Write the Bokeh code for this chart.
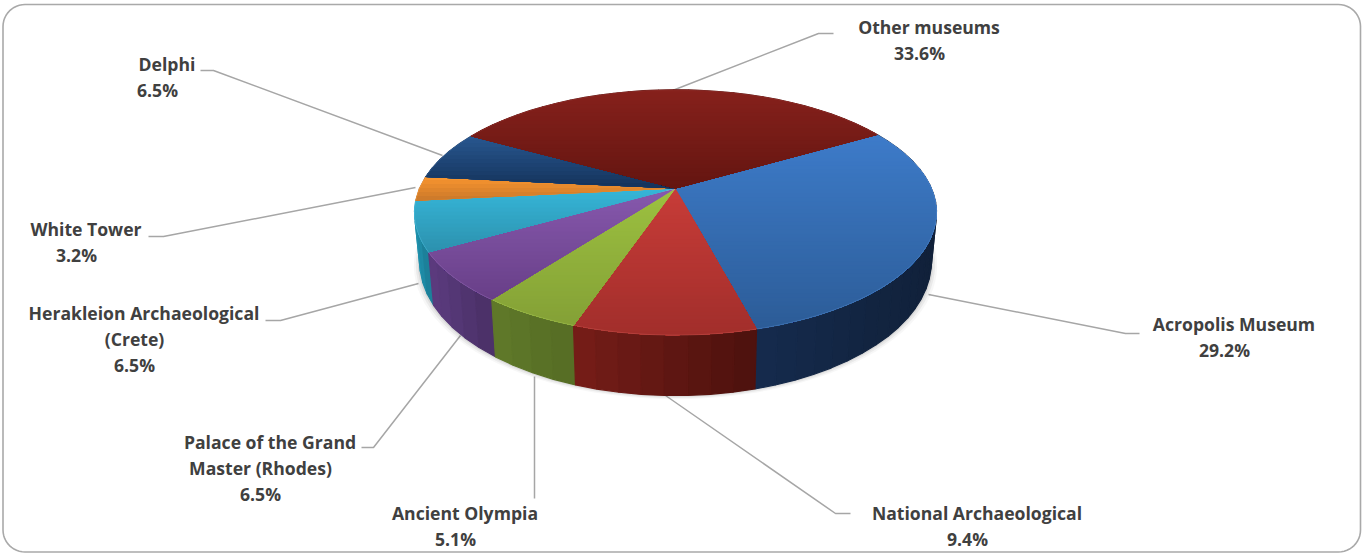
import math
from bokeh.plotting import figure
from bokeh.models import ColumnDataSource
from bokeh.core.properties import value
from bokeh.embed import file_html
from bokeh.resources import INLINE

# ---- data ----
categories = ["Acropolis Museum", "National Archaeological", "Ancient Olympia",
              "Palace of the Grand\nMaster (Rhodes)", "Herakleion Archaeological\n(Crete)",
              "White Tower", "Delphi", "Other museums"]
shares = [29.2, 9.4, 5.1, 6.5, 6.5, 3.2, 6.5, 33.6]

# ---- styles ----
top_light = ["#3d7bc9", "#c73c38", "#9cc140", "#8759ae", "#36b6d8", "#f9962f", "#28578f", "#86211c"]
top_dark  = ["#2c5c97", "#a22e2b", "#84a036", "#683f87", "#2c90ad", "#c9772a", "#14325a", "#641510"]
side_l    = ["#152b4d", "#761d18", "#60792a", "#5c3b7f", "#2092ae", "#a85f1c", "#14325a", "#5a120e"]
side_r    = ["#122440", "#4c110d", "#556c24", "#493066", "#1a7a93", "#a85f1c", "#14325a", "#5a120e"]
text_color = "#404040"
line_color = "#a6a6a6"

# layout of labels: centre x, first-line y, leader polyline
label_x = [1224, 967, 455, 260, 134, 76, 157, 919]
label_y = [323, 512, 512, 441, 312, 228, 63, 26]
leaders = [
    ([928, 1125, 1139], [294, 333, 333]),
    ([665, 835, 850], [395, 513, 513]),
    ([534, 534], [376, 498]),
    ([460, 373, 361], [335, 447, 447]),
    ([418, 280, 265], [283, 320, 320]),
    ([415, 163, 148], [187, 236, 236]),
    ([442, 213, 200], [155, 70, 70]),
    ([672, 818, 833], [90, 33, 33]),
]

CX, CY, A, H, S = 675.0, 188.0, 256.0, 118.0, 5.12
START = 60.0


def project(theta_deg, r=1.0):
    t = math.radians(theta_deg)
    u, v = r * math.sin(t), -r * math.cos(t)
    f = S / (S - v)
    return CX + A * u * f, CY + H * v * f


def base(x, y):
    return CX + (x - CX) * 0.98, y + 53 + 0.09 * (y - 252)


def rgb(h):
    return [int(h[i:i + 2], 16) for i in (1, 3, 5)]


def mix(a, b, t):
    ca, cb = rgb(a), rgb(b)
    return "#%02x%02x%02x" % tuple(round(ca[i] + (cb[i] - ca[i]) * t) for i in range(3))


def clip_below(poly, lim):
    out = []
    n = len(poly)
    for i in range(n):
        p, q = poly[i], poly[(i + 1) % n]
        pin, qin = p[1] >= lim, q[1] >= lim
        if pin:
            out.append(p)
        if pin != qin:
            t = (lim - p[1]) / (q[1] - p[1])
            out.append((p[0] + (q[0] - p[0]) * t, lim))
    return out


p = figure(width=1362, height=553, x_range=(0, 1362), y_range=(553, 0),
           output_backend="svg", toolbar_location=None, min_border=0,
           outline_line_color=None, background_fill_color="white")
p.axis.visible = False
p.grid.visible = False
p.styles = {"position": "absolute", "left": "0", "top": "0"}

# frame
rad, x0, x1, y0, y1 = 22, 2.5, 1360, 4, 551.5
fx, fy = [], []
for (cx, cy, a0) in [(x1 - rad, y0 + rad, -90), (x1 - rad, y1 - rad, 0), (x0 + rad, y1 - rad, 90), (x0 + rad, y0 + rad, 180)]:
    for k in range(13):
        a = math.radians(a0 + k * 7.5)
        fx.append(cx + rad * math.cos(a))
        fy.append(cy + rad * math.sin(a))
fx.append(fx[0]); fy.append(fy[0])
p.line(fx, fy, line_color="#a9a9a9", line_width=1.6)

# leaders
for lx, ly in leaders:
    p.line(lx, ly, line_color=line_color, line_width=1.5)

# slice boundaries from the shares
bounds = [START]
for s in shares:
    bounds.append(bounds[-1] + s * 3.6)

# soft shadow
for grow, alpha in [(6, 0.03), (4, 0.05), (2, 0.07)]:
    pts = [base(*project(a)) for a in range(0, 360, 3)]
    p.patch([CX + (x - CX) * (1 + grow / 262) for x, y in pts],
            [y + grow * 0.6 for x, y in pts],
            fill_color="black", fill_alpha=alpha, line_color=None)

# sides
xs, ys, cs = [], [], []
quads = []
for i in range(len(shares)):
    a0, a1 = bounds[i], bounds[i + 1]
    n = max(2, int((a1 - a0) / 4))
    for k in range(n):
        t0 = a0 + (a1 - a0) * k / n
        t1 = a0 + (a1 - a0) * (k + 1) / n
        x_a, y_a = project(t0)
        x_b, y_b = project(t1)
        bx_a, by_a = base(x_a, y_a)
        bx_b, by_b = base(x_b, y_b)
        xl = min(project(a0)[0], project(a1)[0])
        xr = max(project(a0)[0], project(a1)[0])
        tt = 0 if xr == xl else ((x_a + x_b) / 2 - xl) / (xr - xl)
        quads.append(((y_a + y_b) / 2, [x_a, x_b, bx_b, bx_a], [y_a, y_b, by_b, by_a],
                      mix(side_l[i], side_r[i], tt)))
quads.sort(key=lambda q: q[0])
for q in quads:
    xs.append(q[1]); ys.append(q[2]); cs.append(q[3])
p.patches("xs", "ys", source=ColumnDataSource(dict(xs=xs, ys=ys, c=cs)),
          fill_color="c", line_color="c", line_width=1.2)

# top faces: vertical gradient painted as nested layers, each one running to the slice's lowest point
xs, ys, cs = [], [], []
rims = []
for i in range(len(shares)):
    a0, a1 = bounds[i], bounds[i + 1]
    n = max(4, int((a1 - a0) / 1.5))
    poly = [(CX, CY)] + [project(a0 + (a1 - a0) * k / n) for k in range(n + 1)]
    ymin = min(q[1] for q in poly)
    ymax = max(q[1] for q in poly)
    row = ymin - 1
    step = 4
    while row < ymax:
        c = clip_below(poly, row)
        if len(c) >= 3:
            xs.append([q[0] for q in c])
            ys.append([q[1] for q in c])
            cs.append(mix(top_light[i], top_dark[i], min(1, max(0, (row + step / 2 - ymin) / (ymax - ymin)))))
        row += step
    rims.append(([q[0] for q in poly[1:]], [q[1] for q in poly[1:]], mix(top_light[i], "#ffffff", 0.15)))
p.patches("xs", "ys", source=ColumnDataSource(dict(xs=xs, ys=ys, c=cs)),
          fill_color="c", line_color=None)
for rx, ry, rc in rims:
    p.line(rx, ry, line_color=rc, line_width=1, line_alpha=0.4)

# labels
tx, ty, tt = [], [], []
for name, share, lx, ly in zip(categories, shares, label_x, label_y):
    lines = name.split("\n")
    for j, line in enumerate(lines):
        tx.append(lx + (9.5 if j == 0 else 0))
        ty.append(ly + j * 26)
        tt.append(line)
    tx.append(lx)
    ty.append(ly + len(lines) * 26)
    tt.append(f"{share:.1f}%")
p.text("x", "y", text="t", source=ColumnDataSource(dict(x=tx, y=ty, t=tt)),
       text_font=value("Open Sans"), text_font_style="bold", text_font_size="17.6px",
       text_color=text_color, text_align="center", text_baseline="middle")

open("out.html", "w").write(file_html(p, INLINE))
